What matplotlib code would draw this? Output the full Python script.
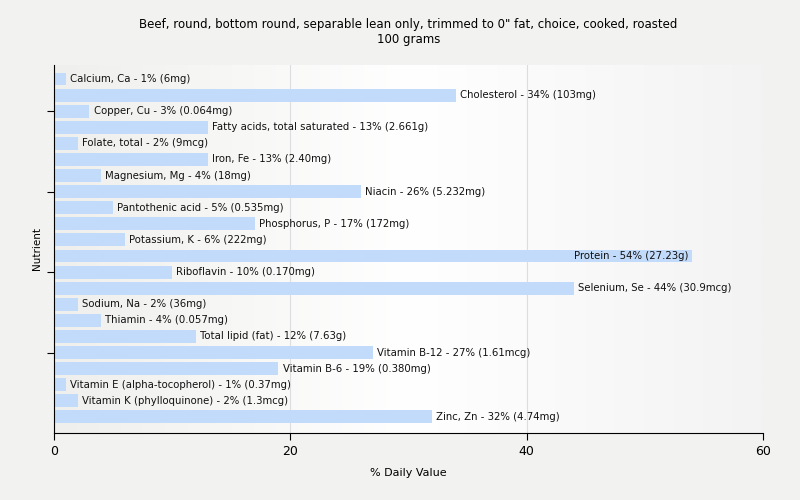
import numpy as np
from matplotlib import pyplot as plt
from matplotlib.colors import LinearSegmentedColormap

title = 'Beef, round, bottom round, separable lean only, trimmed to 0" fat, choice, cooked, roasted\n100 grams'

nutrients = ['Calcium, Ca', 'Cholesterol', 'Copper, Cu', 'Fatty acids, total saturated',
             'Folate, total', 'Iron, Fe', 'Magnesium, Mg', 'Niacin', 'Pantothenic acid',
             'Phosphorus, P', 'Potassium, K', 'Protein', 'Riboflavin', 'Selenium, Se',
             'Sodium, Na', 'Thiamin', 'Total lipid (fat)', 'Vitamin B-12', 'Vitamin B-6',
             'Vitamin E (alpha-tocopherol)', 'Vitamin K (phylloquinone)', 'Zinc, Zn']
percents = [1, 34, 3, 13, 2, 13, 4, 26, 5, 17, 6, 54, 10, 44, 2, 4, 12, 27, 19, 1, 2, 32]
amounts = ['6mg', '103mg', '0.064mg', '2.661g', '9mcg', '2.40mg', '18mg', '5.232mg',
           '0.535mg', '172mg', '222mg', '27.23g', '0.170mg', '30.9mcg', '36mg', '0.057mg',
           '7.63g', '1.61mcg', '0.380mg', '0.37mg', '1.3mcg', '4.74mg']

bg = '#f2f2f0'
fig = plt.figure(figsize=(8, 5), dpi=100, facecolor=bg)
ax = fig.add_axes([0.0675, 0.134, 0.886, 0.736])

# background gradient of the plot area
grad = LinearSegmentedColormap.from_list('g', ['#efefed', '#ffffff', '#f3f3f3'])
ax.imshow(np.linspace(0, 1, 256).reshape(1, -1), cmap=grad, aspect='auto',
          extent=[0, 60, 21 + 1.0, -0.87], zorder=0)

y = np.arange(len(nutrients))
ax.barh(y, percents, height=0.8, color='#c2dbfa', zorder=2)
for yi, p, n, a in zip(y, percents, nutrients, amounts):
    lab = '%s - %d%% (%s)' % (n, p, a)
    if p > 50:
        # too long to fit right of the bar, put it inside
        ax.text(p - 0.3, yi, lab, va='center', ha='right',
                fontsize=7.3, color='#111111', zorder=3)
    else:
        ax.text(p + 0.35, yi, lab, va='center', ha='left',
                fontsize=7.3, color='#111111', zorder=3)

ax.set_xlim(0, 60)
ax.set_ylim(21 + 1.0, -0.87)
ax.set_xticks([0, 20, 40, 60])
ax.set_yticks([2, 7, 12, 17])
ax.set_yticklabels([])
ax.tick_params(axis='x', labelsize=9, length=5)
ax.tick_params(axis='y', length=5)
ax.grid(axis='x', color='#dddddd', linewidth=0.8, zorder=1)
ax.set_axisbelow(True)
for s in ['top', 'right']:
    ax.spines[s].set_visible(False)

ax.set_xlabel('% Daily Value', fontsize=8, labelpad=7)
ax.set_ylabel('Nutrient', fontsize=7.5)
ax.yaxis.set_label_coords(-0.017, 0.5)
ax.set_title(title, fontsize=8.5, pad=16)

fig.savefig('out.png', dpi=100, facecolor=bg)
